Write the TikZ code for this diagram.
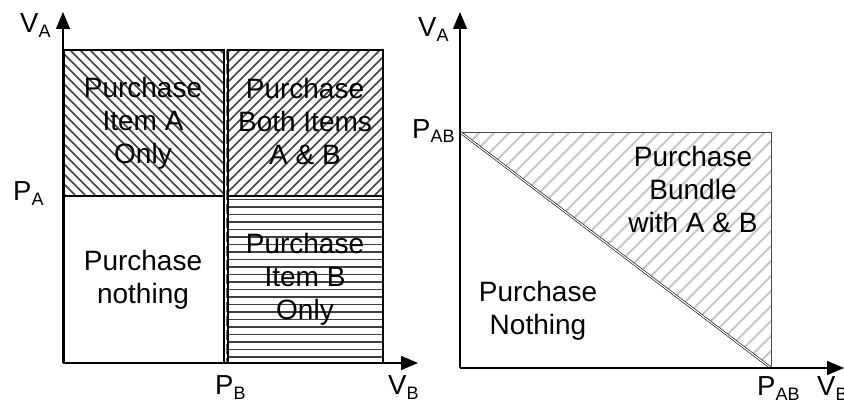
\documentclass[tikz,border=0pt]{standalone}
\usepackage{fontspec}
\setmainfont{Liberation Sans}
\usetikzlibrary{arrows.meta}
\newcommand\subs[1]{\raisebox{-5pt}{\fontsize{18}{18}\selectfont #1}}
\begin{document}
\begin{tikzpicture}[x=1pt,y=-1pt,
  axis/.style={line width=1.3pt,-{Triangle[length=17pt,width=14pt]}},
  regionline/.style={line width=1.6pt,draw=black},
  txt/.style={font=\fontsize{28}{33}\selectfont,align=center,inner sep=0pt},
  lab/.style={font=\fontsize{27.5}{33}\selectfont,inner sep=0pt,anchor=base west},
  hatchdark/.style={line width=1.6pt,draw=black!75},
  hatchlight/.style={line width=1.8pt,draw=black!22},
]
\useasboundingbox (0,0) rectangle (844,404);
% ---------- left diagram ----------
\coordinate (LO) at (63,363);
\coordinate (LY) at (63,12);
\coordinate (LX) at (418,363);
\begin{scope}
  \clip (64,50) rectangle (224,196);
  \foreach \x in {-90,-80,...,230} \draw[hatchdark] (\x,50) -- ++(150,150);
\end{scope}
\begin{scope}
  \clip (228,50) rectangle (383,196);
  \foreach \x in {230,240,...,540} \draw[hatchdark] (\x,50) -- ++(-150,150);
\end{scope}
\begin{scope}
  \clip (228,196) rectangle (383,363);
  \foreach \y in {199.5,207,...,362} \draw[hatchdark] (228,\y) -- (383,\y);
\end{scope}
\draw[regionline] (64,363) rectangle (224,50);
\draw[regionline] (64,196) -- (224,196);
\draw[regionline] (227.8,363) rectangle (383,50);
\draw[regionline] (227.8,196) -- (383,196);
\draw[line width=0.8pt,black!60,dash pattern=on 10pt off 4pt] (226,50) -- (226,363);
\draw[axis] (LO) -- (LY);
\draw[axis] (LO) -- (LX);
\node[txt] (tA) at (143,123) {Purchase\\Item A\\Only};
\node[txt] (tAB) at (305,121) {Purchase\\Both Items\\A \& B};
\node[txt] (tN) at (143,280) {Purchase\\nothing};
\node[txt] (tB) at (305,279) {Purchase\\Item B\\Only};
\node[lab] (lVA) at (20,33) {V\subs{A}};
\node[lab] (lPA) at (13,200) {P\subs{A}};
\node[lab] (lPB) at (215,394) {P\subs{B}};
\node[lab] (lVB) at (388,394) {V\subs{B}};
% ---------- right diagram ----------
\coordinate (RO) at (460,368);
\coordinate (RY) at (460,12);
\coordinate (RX) at (844,368);
\coordinate (RAB) at (460,132);
\coordinate (RTR) at (771,132);
\coordinate (RBR) at (771,366);
\coordinate (RB) at (771,368);
\begin{scope}
  \clip (RAB) -- (RTR) -- (RB) -- cycle;
  \foreach \x in {465,480,...,1020} \draw[hatchlight] (\x,132) -- ++(-240,240);
\end{scope}
\draw[line width=1pt,black!70] (RAB) -- (RTR) -- (RBR);
\draw[double,double distance=1.2pt,line width=0.6pt] (RAB) -- (RB);
\draw[axis] (RO) -- (RY);
\draw[axis] (RO) -- (RX);
\node[txt] (tBun) at (693,189) {Purchase\\Bundle\\with A \& B};
\node[txt] (tNo) at (538,311) {Purchase\\Nothing};
\node[lab] (rVA) at (418,37) {V\subs{A}};
\node[lab] (rPAB) at (412,138) {P\subs{AB}};
\node[lab] (rPAB2) at (757,395) {P\subs{AB}};
\node[lab] (rVB) at (817,395) {V\subs{B}};
\end{tikzpicture}
\end{document}
